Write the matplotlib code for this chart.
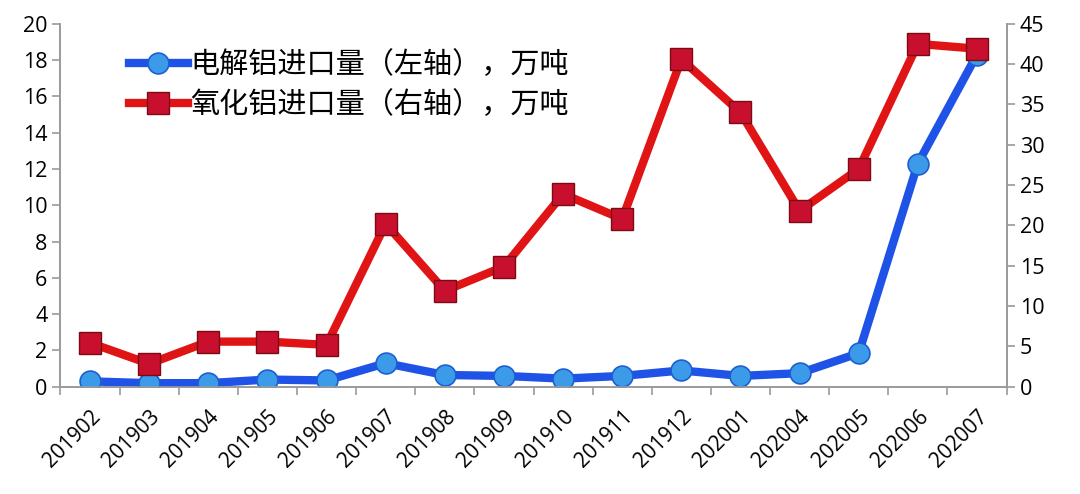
import matplotlib.pyplot as plt
import numpy as np

plt.rcParams['font.family'] = ['Open Sans', 'Noto Sans CJK SC', 'DejaVu Sans']

months = ['201902', '201903', '201904', '201905', '201906', '201907', '201908', '201909',
          '201910', '201911', '201912', '202001', '202004', '202005', '202006', '202007']
# 电解铝进口量, 万吨 (left axis)
aluminium = [0.3, 0.2, 0.2, 0.4, 0.35, 1.3, 0.65, 0.6, 0.45, 0.6, 0.9, 0.6, 0.75, 1.85, 12.3, 18.3]
# 氧化铝进口量, 万吨 (right axis)
alumina = [5.45, 2.85, 5.6, 5.6, 5.2, 20.2, 11.9, 14.9, 23.9, 20.8, 40.6, 34.0, 21.8, 27.0, 42.5, 41.9]

x = np.arange(len(months))

fig = plt.figure(figsize=(10.8, 4.94), dpi=100)
ax = fig.add_axes([0.056, 0.217, 0.876, 0.735])
ax2 = ax.twinx()

l1, = ax.plot(x, aluminium, color='#1f52e6', lw=6, marker='o', ms=15,
              mfc='#3b9be8', mec='#1d5fd0', mew=1.2, label='电解铝进口量（左轴），万吨', zorder=3)
l2, = ax2.plot(x, alumina, color='#e01414', lw=6, marker='s', ms=16,
               mfc='#c8102e', mec='#7a0a14', mew=1.0, label='氧化铝进口量（右轴），万吨', zorder=2)

ax.set_xlim(-0.5, len(months) - 0.5)
ax.set_ylim(0, 20)
ax2.set_ylim(0, 45)
ax.set_yticks(np.arange(0, 21, 2))
ax2.set_yticks(np.arange(0, 46, 5))

ax.set_xticks(x)
ax.set_xticklabels(months, rotation=45, ha='right', rotation_mode='anchor', fontsize=15)
ax.tick_params(axis='x', which='major', length=0, pad=14)
ax.set_xticks(np.arange(-0.5, len(months), 1), minor=True)
ax.tick_params(axis='x', which='minor', length=6, color='#9a9a9a', width=1.2)
ax.tick_params(axis='y', labelsize=15.5, length=6, color='#9a9a9a', width=1.2)
ax2.tick_params(axis='y', labelsize=15.5, length=6, color='#9a9a9a', width=1.2)

for a in (ax, ax2):
    a.spines['top'].set_visible(False)
    for s in ('left', 'right', 'bottom'):
        a.spines[s].set_color('#9a9a9a')
        a.spines[s].set_linewidth(1.2)

leg = ax.legend(handles=[l1, l2], loc='upper left', bbox_to_anchor=(0.045, 1.0),
                frameon=False, handlelength=2.0, handletextpad=0.1,
                labelspacing=0.35, prop={'family': ['Noto Sans CJK SC'], 'size': 21})

fig.savefig('out.png', dpi=100)
